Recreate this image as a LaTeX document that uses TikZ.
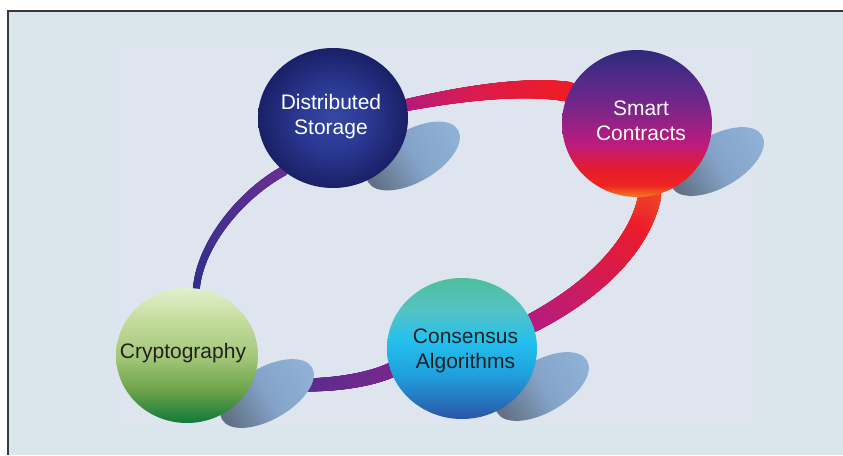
\documentclass[tikz,border=0pt]{standalone}
\usepackage{fontspec}
\setmainfont{Liberation Sans}
\usetikzlibrary{shapes.geometric,decorations.markings}

\definecolor{bgout}{RGB}{219,229,236}
\definecolor{bgin}{RGB}{223,229,238}
\definecolor{framecol}{RGB}{58,58,62}
\definecolor{txtdark}{RGB}{35,31,32}
% Distributed Storage
\definecolor{dsA}{RGB}{52,72,162}
\definecolor{dsB}{RGB}{42,56,146}
\definecolor{dsC}{RGB}{26,32,102}
% Smart Contracts
\definecolor{scA}{RGB}{45,42,124}
\definecolor{scB}{RGB}{87,42,138}
\definecolor{scC}{RGB}{122,37,137}
\definecolor{scD}{RGB}{189,27,125}
\definecolor{scE}{RGB}{232,28,42}
\definecolor{scF}{RGB}{238,36,36}
\definecolor{scG}{RGB}{244,123,32}
% Cryptography
\definecolor{crA}{RGB}{227,239,205}
\definecolor{crB}{RGB}{196,220,157}
\definecolor{crC}{RGB}{164,199,122}
\definecolor{crD}{RGB}{110,163,74}
\definecolor{crE}{RGB}{14,122,58}
% Consensus Algorithms
\definecolor{caA}{RGB}{77,191,155}
\definecolor{caB}{RGB}{86,195,196}
\definecolor{caC}{RGB}{36,192,238}
\definecolor{caD}{RGB}{31,160,220}
\definecolor{caE}{RGB}{43,85,166}
% shadows
\definecolor{shL}{RGB}{143,177,214}
\definecolor{shM}{RGB}{132,163,200}
\definecolor{shD}{RGB}{98,114,134}
% ring
\definecolor{bNavy}{RGB}{46,47,140}
\definecolor{bLmid}{RGB}{74,48,142}
\definecolor{bPurp}{RGB}{104,46,146}
\definecolor{bMag}{RGB}{180,26,127}
\definecolor{bCrim}{RGB}{218,27,80}
\definecolor{bRed}{RGB}{238,28,37}
\definecolor{bOrg}{RGB}{240,75,35}
\definecolor{bRedB}{RGB}{234,27,46}
\definecolor{bMagB}{RGB}{184,27,125}
\definecolor{bPurB}{RGB}{120,40,140}
\definecolor{bPurM}{RGB}{98,43,140}
\definecolor{bPurC}{RGB}{74,44,138}

\pgfdeclareradialshading{dssh}{\pgfpoint{0bp}{0bp}}{color(0bp)=(dsA); color(12bp)=(dsB); color(25bp)=(dsC); color(50bp)=(dsC)}
\pgfdeclareverticalshading{scsh}{100bp}{color(0bp)=(scG); color(25bp)=(scG); color(29bp)=(scF); color(34bp)=(scE); color(42.7bp)=(scD); color(55.6bp)=(scC); color(63.8bp)=(scB); color(75bp)=(scA); color(100bp)=(scA)}
\pgfdeclareverticalshading{crsh}{100bp}{color(0bp)=(crE); color(25bp)=(crE); color(37.2bp)=(crD); color(49.8bp)=(crC); color(63.1bp)=(crB); color(75bp)=(crA); color(100bp)=(crA)}
\pgfdeclareverticalshading{cash}{100bp}{color(0bp)=(caE); color(25bp)=(caE); color(40.6bp)=(caD); color(53bp)=(caC); color(63.7bp)=(caB); color(75bp)=(caA); color(100bp)=(caA)}

\pgfdeclarelayer{back}
\pgfdeclarelayer{mid}
\pgfsetlayers{back,mid,main}

\tikzset{
  orb/.style={ellipse, inner sep=0pt, outer sep=0pt, shade},
  lbl/.style={font=\fontsize{21}{25}\selectfont, align=center, inner sep=0pt},
  shadowst/.style={top color=shL, bottom color=shD, middle color=shM, shading angle=-60},
  gband/.style n args={6}{
    postaction={decorate},
    decoration={markings,
      mark=between positions 0 and 1 step 0.5pt with {
        \pgfmathsetmacro\bandt{\pgfkeysvalueof{/pgf/decoration/mark info/distance from start}/\pgfdecoratedpathlength}
        \pgfmathsetmacro\bandr{(#5+(#6-#5)*\bandt)/2}
        \ifdim\bandt pt<#4pt
          \pgfmathsetmacro\bandp{max(0,min(100,100*(1-\bandt/#4)))}
          \colorlet{bandcur}{#1!\bandp!#2}
        \else
          \pgfmathsetmacro\bandp{max(0,min(100,100*(1-(\bandt-#4)/(1-#4))))}
          \colorlet{bandcur}{#2!\bandp!#3}
        \fi
        \fill[bandcur] (0,0) circle[radius=\bandr pt];
      }}}
}

\begin{document}
\begin{tikzpicture}[x=1pt,y=1pt]
\useasboundingbox (0,0) rectangle (843,-455);

% spheres
\node[orb, shading=dssh, minimum width=150pt, minimum height=140pt] (ds) at (333,-118) {};
\node[orb, shading=scsh, minimum width=150pt, minimum height=147pt] (sc) at (637,-123.5) {};
\node[orb, shading=crsh, minimum width=142pt, minimum height=135pt] (cr) at (187,-355.5) {};
\node[orb, shading=cash, minimum width=150pt, minimum height=141pt] (ca) at (462,-348.5) {};

% labels
\node[lbl, text=white] (dst) at (331,-116.5) {Distributed\\Storage};
\node[lbl, text=white] (sct) at (641,-120.5) {Smart\\Contracts};
\node[lbl, text=txtdark] (crt) at (183,-353.5) {Cryptography};
\node[lbl, text=txtdark] (cat) at (465.5,-350.5) {Consensus\\Algorithms};

\begin{pgfonlayer}{back}
  \fill[white] (0,0) rectangle (843,-455);
  \fill[bgout] (8,-11) rectangle (843,-455);
  \fill[bgin] (116,-48) rectangle (757,-424);
  \draw[framecol, line width=2pt] (8,-455) -- (8,-11) -- (843,-11);
  % ring connectors
  \path[gband={bNavy}{bLmid}{bPurp}{0.5}{7}{10}] (cr.82) .. controls (200,-245) and (240,-195) .. (ds.227);
  \path[gband={bMag}{bCrim}{bRed}{0.45}{12}{20}] (ds.10) .. controls (450,-96) and (520,-84) .. (sc.155);
  \path[gband={bOrg}{bRedB}{bMagB}{0.25}{23}{19}] (sc.-80) .. controls (640,-245) and (595,-290) .. (ca.20);
  \path[gband={bPurB}{bPurM}{bPurC}{0.5}{15}{12}] (ca.197) .. controls (360,-384) and (300,-390) .. (cr.-20);
\end{pgfonlayer}

\begin{pgfonlayer}{mid}
  \shade[shadowst, shift={(ds.center)}, shift={(80,-38)}, rotate=30] (0,0) ellipse [x radius=52, y radius=26];
  \shade[shadowst, shift={(sc.center)}, shift={(80,-38)}, rotate=30] (0,0) ellipse [x radius=52, y radius=26];
  \shade[shadowst, shift={(cr.center)}, shift={(80,-38)}, rotate=30] (0,0) ellipse [x radius=52, y radius=26];
  \shade[shadowst, shift={(ca.center)}, shift={(80,-38)}, rotate=30] (0,0) ellipse [x radius=52, y radius=26];
\end{pgfonlayer}
\end{tikzpicture}
\end{document}
